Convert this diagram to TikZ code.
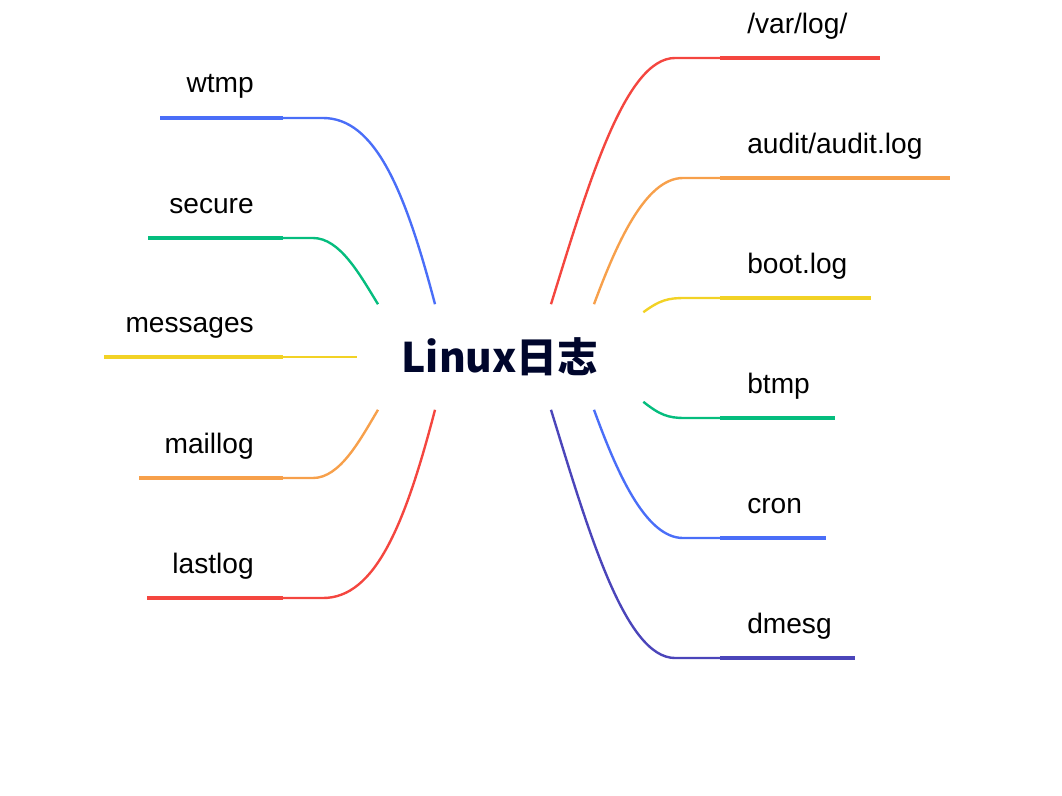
\documentclass[tikz,border=0pt]{standalone}
\usepackage{fontspec}
\setmainfont{Liberation Sans}
\newfontfamily\cjkfont{Noto Sans CJK SC}
\usepackage{tikz}
\usetikzlibrary{calc}
\definecolor{logred}{HTML}{F4463F}
\definecolor{logorange}{HTML}{F7A04B}
\definecolor{logyellow}{HTML}{F2D225}
\definecolor{loggreen}{HTML}{05BD7E}
\definecolor{logblue}{HTML}{4A6EF8}
\definecolor{logindigo}{HTML}{4B45BA}
\definecolor{rootink}{HTML}{00062C}
\tikzset{
  logroot/.style={inner sep=0pt, minimum width=7.15cm, minimum height=2.625cm, text=rootink, font=\cjkfont\bfseries\fontsize{29}{34}\selectfont},
  logleaf/.style={inner sep=0pt, font=\fontsize{20}{24}\selectfont},
  logbranch/.style={line width=1.7pt},
  logbar/.style={line width=2.9pt}
}

\begin{document}
\begin{tikzpicture}[x=0.025cm, y=-0.025cm]
  \useasboundingbox (0,0) rectangle (1062,795);
  \node[logroot] (root) at (500,357) {Linux日志};

  % left side
  \node[logleaf, anchor=base east] (wtmp) at (254,93) {wtmp};
  \node[logleaf, anchor=base east] (secure) at (254,213) {secure};
  \node[logleaf, anchor=base east] (messages) at (254,332) {messages};
  \node[logleaf, anchor=base east] (maillog) at (254,453) {maillog};
  \node[logleaf, anchor=base east] (lastlog) at (254,573) {lastlog};
  \coordinate (wtmp-in) at (283,118);     \coordinate (wtmp-out) at (160,118);
  \coordinate (secure-in) at (283,238);   \coordinate (secure-out) at (148,238);
  \coordinate (messages-in) at (283,357); \coordinate (messages-out) at (104,357);
  \coordinate (maillog-in) at (283,478);  \coordinate (maillog-out) at (139,478);
  \coordinate (lastlog-in) at (283,598);  \coordinate (lastlog-out) at (147,598);

  \draw[logbranch, logblue] ($(root.north)+(-65,0)$) .. controls (405,190) and (375,118) .. (323,118) -- (wtmp-in);
  \draw[logbranch, loggreen] ($(root.north)+(-122,0)$) .. controls (360,275) and (340,238) .. (313,238) -- (secure-in);
  \draw[logbranch, logyellow] (root.west) -- (messages-in);
  \draw[logbranch, logorange] ($(root.south)+(-122,0)$) .. controls (360,440) and (340,478) .. (313,478) -- (maillog-in);
  \draw[logbranch, logred] ($(root.south)+(-65,0)$) .. controls (405,525) and (375,598) .. (323,598) -- (lastlog-in);
  \draw[logbar, logblue] (wtmp-in) -- (wtmp-out);
  \draw[logbar, loggreen] (secure-in) -- (secure-out);
  \draw[logbar, logyellow] (messages-in) -- (messages-out);
  \draw[logbar, logorange] (maillog-in) -- (maillog-out);
  \draw[logbar, logred] (lastlog-in) -- (lastlog-out);

  % right side
  \node[logleaf, anchor=base west] (varlog) at (747,34) {/var/log/};
  \node[logleaf, anchor=base west] (audit) at (747,153) {audit/audit.log};
  \node[logleaf, anchor=base west] (boot) at (747,273) {boot.log};
  \node[logleaf, anchor=base west] (btmp) at (747,393) {btmp};
  \node[logleaf, anchor=base west] (cron) at (747,513) {cron};
  \node[logleaf, anchor=base west] (dmesg) at (747,633) {dmesg};
  \coordinate (varlog-in) at (720,58);  \coordinate (varlog-out) at (880,58);
  \coordinate (audit-in) at (720,178);  \coordinate (audit-out) at (950,178);
  \coordinate (boot-in) at (720,298);   \coordinate (boot-out) at (871,298);
  \coordinate (btmp-in) at (720,418);   \coordinate (btmp-out) at (835,418);
  \coordinate (cron-in) at (720,538);   \coordinate (cron-out) at (826,538);
  \coordinate (dmesg-in) at (720,658);  \coordinate (dmesg-out) at (855,658);

  \draw[logbranch, logred] ($(root.north)+(51,0)$) .. controls (588,185) and (625,58) .. (675,58) -- (varlog-in);
  \draw[logbranch, logorange] ($(root.north)+(94,0)$) .. controls (616,245) and (645,178) .. (683,178) -- (audit-in);
  \draw[logbranch, logyellow] ($(root.north east)+(0,8)$) .. controls (660,300) and (668,298) .. (685,298) -- (boot-in);
  \draw[logbranch, loggreen] ($(root.south east)+(0,-8)$) .. controls (660,415) and (668,418) .. (685,418) -- (btmp-in);
  \draw[logbranch, logblue] ($(root.south)+(94,0)$) .. controls (616,470) and (645,538) .. (683,538) -- (cron-in);
  \draw[logbranch, logindigo] ($(root.south)+(51,0)$) .. controls (588,530) and (625,658) .. (675,658) -- (dmesg-in);
  \draw[logbar, logred] (varlog-in) -- (varlog-out);
  \draw[logbar, logorange] (audit-in) -- (audit-out);
  \draw[logbar, logyellow] (boot-in) -- (boot-out);
  \draw[logbar, loggreen] (btmp-in) -- (btmp-out);
  \draw[logbar, logblue] (cron-in) -- (cron-out);
  \draw[logbar, logindigo] (dmesg-in) -- (dmesg-out);
\end{tikzpicture}
\end{document}
